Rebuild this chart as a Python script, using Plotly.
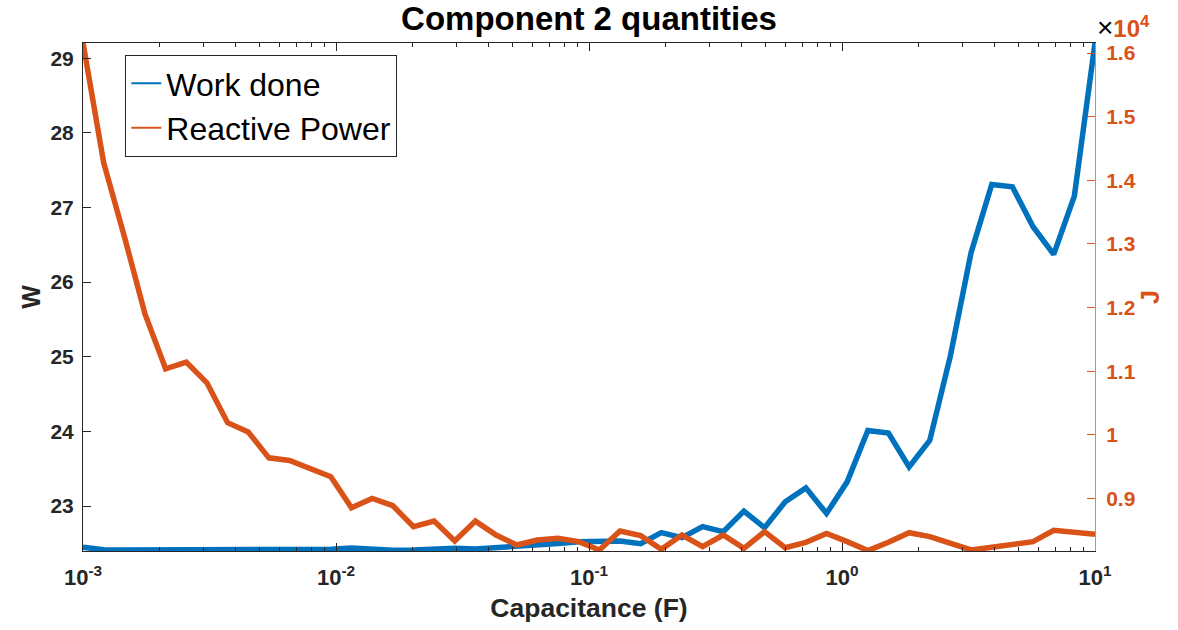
import plotly.graph_objects as go

# Capacitance (F), 50 log-spaced samples
capacitance = [0.001, 0.001207, 0.001456, 0.001758, 0.002121, 0.00256, 0.003089, 0.003728,
               0.004498, 0.005429, 0.006551, 0.007906, 0.009541, 0.01151, 0.0139, 0.01677,
               0.02024, 0.02442, 0.02947, 0.03556, 0.04292, 0.05179, 0.06251, 0.07543,
               0.09103, 0.1099, 0.1326, 0.16, 0.1931, 0.233, 0.2812, 0.3393,
               0.4095, 0.4942, 0.5964, 0.7197, 0.8685, 1.048, 1.265, 1.526,
               1.842, 2.223, 2.683, 3.237, 3.907, 4.715, 5.69, 6.866, 8.286, 10.0]

# Work done (W) - left axis
work_done = [22.447, 22.414, 22.411, 22.411, 22.411, 22.411, 22.414, 22.414, 22.417, 22.417,
             22.417, 22.417, 22.420, 22.438, 22.420, 22.407, 22.411, 22.425, 22.434, 22.425,
             22.440, 22.470, 22.487, 22.500, 22.523, 22.531, 22.531, 22.497, 22.644, 22.577,
             22.724, 22.657, 22.932, 22.710, 23.057, 23.244, 22.901, 23.324, 24.013, 23.979,
             23.525, 23.880, 25.015, 26.395, 27.307, 27.276, 26.742, 26.372, 27.151, 29.203]

# Reactive Power (J) - right axis
reactive_power = [16160, 14277, 13122, 11900, 11038, 11143, 10818, 10191, 10045, 9638,
                  9596, 9459, 9340, 8854, 9000, 8886, 8556, 8644, 8331, 8644,
                  8425, 8268, 8346, 8373, 8321, 8190, 8487, 8415, 8201, 8425,
                  8243, 8425, 8216, 8478, 8227, 8310, 8451, 8321, 8180, 8310,
                  8462, 8400, 8295, 8190, 8232, 8268, 8321, 8498, 8462, 8436]

x_tickvals = [0.001, 0.01, 0.1, 1, 10]
x_ticktext = ["10<sup>-3</sup>", "10<sup>-2</sup>", "10<sup>-1</sup>", "10<sup>0</sup>", "10<sup>1</sup>"]
x_minor = [m * d for d in [0.001, 0.01, 0.1, 1] for m in range(2, 10)]

w_tickvals = [23, 24, 25, 26, 27, 28, 29]
j_tickvals = [9000, 10000, 11000, 12000, 13000, 14000, 15000, 16000]
j_ticktext = ["0.9", "1", "1.1", "1.2", "1.3", "1.4", "1.5", "1.6"]

BLUE = "#0072BD"
ORANGE = "#D95319"
DARK = "#262626"
FONT = "Liberation Sans, Arial, sans-serif"

fig = go.Figure()
fig.add_trace(go.Scatter(x=capacitance, y=work_done, mode="lines",
                         line=dict(color=BLUE, width=5.5), showlegend=False, yaxis="y"))
fig.add_trace(go.Scatter(x=capacitance, y=reactive_power, mode="lines",
                         line=dict(color=ORANGE, width=5.5), showlegend=False, yaxis="y2"))
# legend entries with thin line samples
fig.add_trace(go.Scatter(x=[None], y=[None], mode="lines", name="Work done",
                         line=dict(color=BLUE, width=2), yaxis="y"))
fig.add_trace(go.Scatter(x=[None], y=[None], mode="lines", name="Reactive Power",
                         line=dict(color=ORANGE, width=2), yaxis="y2"))

fig.update_layout(
    width=1178, height=630,
    margin=dict(l=83, r=83, t=43, b=77),
    paper_bgcolor="white", plot_bgcolor="white",
    font=dict(family=FONT, color=DARK),
    title=dict(text="<b>Component 2 quantities</b>", x=0.5, xref="paper",
               y=1 - 18 / 630, yanchor="middle", xanchor="center",
               font=dict(size=33, color="black", family=FONT)),
    xaxis=dict(type="log", range=[-3, 1], tickvals=x_tickvals, ticktext=x_ticktext,
               ticks="inside", ticklen=8, tickcolor=DARK, tickwidth=1,
               showline=True, linecolor=DARK, linewidth=1, mirror="ticks",
               showgrid=False, zeroline=False,
               minor=dict(tickvals=x_minor, ticks="inside", ticklen=4, tickcolor=DARK, showgrid=False),
               tickfont=dict(size=22, color=DARK, family=FONT, weight="bold"),
               ticklabelstandoff=7,
               title=dict(text="<b>Capacitance (F)</b>", font=dict(size=26.5, color=DARK, family=FONT), standoff=9)),
    yaxis=dict(range=[22.398, 29.203], tickvals=w_tickvals,
               ticks="inside", ticklen=8, tickcolor=DARK,
               showline=True, linecolor=DARK, linewidth=1,
               showgrid=False, zeroline=False,
               tickfont=dict(size=21, color=DARK, family=FONT, weight="bold"),
               ticklabelstandoff=4,
               title=dict(text="<b>W</b>", font=dict(size=25, color=DARK, family=FONT), standoff=2)),
    yaxis2=dict(range=[8174, 16158], tickvals=j_tickvals, ticktext=j_ticktext,
                overlaying="y", side="right",
                ticks="inside", ticklen=8, tickcolor=ORANGE,
                showline=True, linecolor="#D98A5F", linewidth=1,
                showgrid=False, zeroline=False,
                tickfont=dict(size=21, color=ORANGE, family=FONT, weight="bold"),
                ticklabelstandoff=6,
                title=dict(text="<b>J</b>", font=dict(size=25, color=ORANGE, family=FONT), standoff=6)),
    legend=dict(x=0.0418, y=0.9765, xanchor="left", yanchor="top",
                bgcolor="white", bordercolor=DARK, borderwidth=1,
                font=dict(size=32, color="black", family=FONT),
                tracegroupgap=0, itemwidth=30),
    annotations=[dict(text="<span style='font-size:28px'>×</span><b><span style='color:%s'>10<sup>4</sup></span></b>" % ORANGE,
                      xref="paper", yref="paper", x=1.0, y=1 + 16 / 509.7,
                      xanchor="left", yanchor="middle", showarrow=False,
                      font=dict(size=24, color="black", family=FONT))],
)

fig.write_html("out.html")
